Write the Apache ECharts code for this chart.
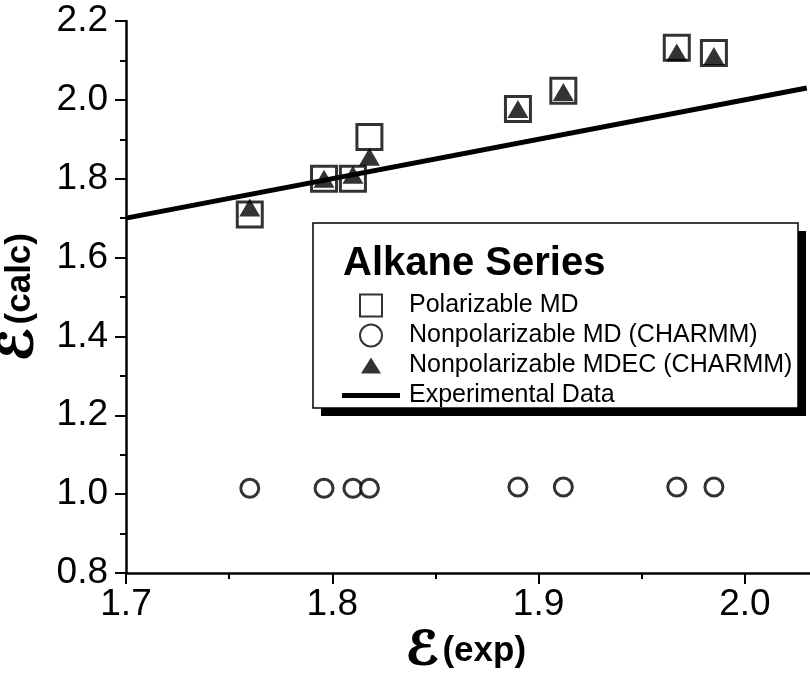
<!DOCTYPE html>
<html>
<head>
<meta charset="utf-8">
<script src="https://cdn.jsdelivr.net/npm/echarts@6/dist/echarts.min.js"></script>
<style>
html,body{margin:0;padding:0;background:#fff;}
#chart{width:810px;height:675px;}
</style>
</head>
<body>
<div id="chart"></div>
<script>
// ---- data ----
var xExp      = [1.760, 1.796, 1.810, 1.818, 1.890, 1.912, 1.967, 1.985];
var polMD     = [1.709, 1.800, 1.800, 1.906, 1.977, 2.023, 2.132, 2.119];
var nonpolMD  = [1.015, 1.015, 1.015, 1.015, 1.018, 1.018, 1.018, 1.018];
var nonpolMDEC= [1.727, 1.800, 1.810, 1.856, 1.977, 2.020, 2.120, 2.111];
var expLineX  = [1.70, 2.03];
var expLineY  = [1.70, 2.03];
var seriesNames = ['Polarizable MD', 'Nonpolarizable MD (CHARMM)', 'Nonpolarizable MDEC (CHARMM)', 'Experimental Data'];
var legendTitle = 'Alkane Series';
var xTicks = {min: 1.7, max: 2.05, interval: 0.1};
var yTicks = {min: 0.8, max: 2.2, interval: 0.2};

function pairs(xs, ys){ return xs.map(function(x,i){ return [x, ys[i]]; }); }

var FONT = '"Liberation Sans", Arial, sans-serif';
var chart = echarts.init(document.getElementById('chart'), null, {renderer:'canvas'});

var axisCommon = {
  axisLine:{show:true, onZero:false, lineStyle:{color:'#000', width:2.5}},
  axisTick:{show:true, inside:false, length:11, lineStyle:{color:'#000', width:2}},
  minorTick:{show:true, splitNumber:2, length:6, lineStyle:{color:'#000', width:2}},
  splitLine:{show:false},
  minorSplitLine:{show:false}
};

var nameRich = {
  e:{fontFamily:'"DejaVu Sans", "Noto Sans", sans-serif', fontWeight:'bold', fontStyle:'italic', fontSize:46, color:'#000',
     textBorderColor:'#000', textBorderWidth:1.6, padding:[0,3,0,0]},
  t:{fontFamily:FONT, fontWeight:'bold', fontSize:35, color:'#000'}
};

var option = {
  animation:false,
  backgroundColor:'#fff',
  grid:{left:126, top:21, bottom:102, right:-38, outerBoundsMode:'none', containLabel:false},
  xAxis: Object.assign({}, axisCommon, {
    type:'value', min:xTicks.min, max:xTicks.max, interval:xTicks.interval,
    name:'{e|ℰ}{t|(exp)}', nameLocation:'middle', nameGap:50,
    nameTextStyle:{rich:nameRich, padding:[0,42,0,0]},
    axisLabel:{color:'#000', fontSize:37, fontFamily:FONT, margin:13, showMaxLabel:false,
      formatter:function(v){ return v.toFixed(1); }}
  }),
  yAxis: Object.assign({}, axisCommon, {
    type:'value', min:yTicks.min, max:yTicks.max, interval:yTicks.interval,
    name:'{e|ℰ}{t|(calc)}', nameLocation:'middle', nameGap:83, nameRotate:90,
    nameTextStyle:{rich:nameRich},
    axisLabel:{color:'#000', fontSize:37, fontFamily:FONT, margin:18,
      formatter:function(v){ return v.toFixed(1); }}
  }),
  legend:{
    orient:'vertical', left:313, top:223, z:10,
    padding:[70, 2, 4, 29],
    itemWidth:58, itemHeight:22, itemGap:5,
    symbolKeepAspect:true,
    backgroundColor:'transparent', borderWidth:0,
    textStyle:{color:'#000', fontSize:25, lineHeight:22, fontFamily:FONT, padding:[0,0,0,4]},
    data:[
      {name:seriesNames[0], icon:'path://M0,0L10,0L10,10L0,10Z'},
      {name:seriesNames[1], icon:'circle'},
      {name:seriesNames[2], icon:'path://M0,0M22,22M1,19L21,19L11,3Z'},
      {name:seriesNames[3], icon:'path://M0,0L58,0L58,5L0,5Z'}
    ]
  },
  graphic:[
    {type:'rect', z:1, shape:{x:321, y:231, width:485, height:185}, style:{fill:'#000'}},
    {type:'rect', z:1, shape:{x:313, y:223, width:485, height:185}, style:{fill:'#fff', stroke:'#000', lineWidth:1.5}},
    {type:'text', left:343, top:244, z:100,
     style:{text:legendTitle, fill:'#000', font:'bold 40px ' + FONT}}
  ],
  series:[
    {
      name:seriesNames[0], type:'scatter', symbol:'rect', symbolSize:25,
      itemStyle:{color:'rgba(255,255,255,0)', borderColor:'#000', borderWidth:3},
      data:pairs(xExp, polMD), z:2
    },
    {
      name:seriesNames[1], type:'scatter', symbol:'circle', symbolSize:18,
      itemStyle:{color:'#fff', borderColor:'#000', borderWidth:3},
      data:pairs(xExp, nonpolMD), z:2
    },
    {
      name:seriesNames[2], type:'scatter', symbol:'triangle', symbolSize:[21,18],
      itemStyle:{color:'#000'},
      data:pairs(xExp, nonpolMDEC), z:4
    },
    {
      name:seriesNames[3], type:'line', symbol:'none', showSymbol:false,
      lineStyle:{color:'#000', width:5}, itemStyle:{color:'#000'},
      data:pairs(expLineX, expLineY), z:3
    }
  ]
};
chart.setOption(option);
</script>
</body>
</html>
